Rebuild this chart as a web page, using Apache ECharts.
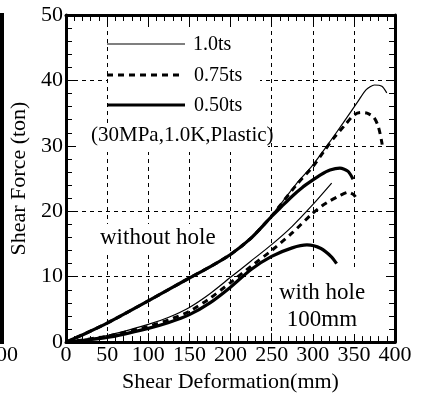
<!DOCTYPE html>
<html>
<head>
<meta charset="utf-8">
<script src="https://cdn.jsdelivr.net/npm/echarts@6/dist/echarts.min.js"></script>
<style>
html,body{margin:0;padding:0;background:#fff;}
#chart{width:423px;height:398px;}
</style>
</head>
<body>
<div id="chart"></div>
<script>
// axis ranges / ticks
const xRange = [0, 400], xStep = 50;
const yRange = [0, 50], yStep = 10;
const seriesNames = ['1.0ts', '0.75ts', '0.50ts'];

// without hole
const noHole100 = [[0,0],[25,1.4],[50,2.9],[100,6.3],[150,9.8],[175,11.5],[200,13.4],[225,16.0],[250,19.4],[264,21.6],[280,24.2],[299,26.9],[315,29.6],[337,33.5],[355,36.8],[365,38.6],[375,39.3],[384,39.1],[390,38.1]];
const noHole075 = [[0,0],[25,1.4],[50,2.9],[100,6.3],[150,9.8],[175,11.5],[200,13.4],[225,15.9],[250,19.3],[280,24.0],[300,26.8],[315,29.4],[325,31.1],[340,33.3],[350,34.7],[358,35.1],[366,35.0],[374,34.4],[379,33.2],[382,31.8],[384,30.5],[385,29.6]];
const noHole050 = [[0,0],[25,1.4],[50,2.9],[100,6.3],[150,9.8],[175,11.5],[200,13.4],[225,15.9],[250,19.2],[262,20.7],[275,22.3],[287,23.6],[298,24.6],[310,25.6],[321,26.3],[333,26.6],[343,26.1],[349,24.9]];
// with hole 100mm
const hole100 = [[0,0],[50,1.0],[100,2.7],[125,3.8],[150,5.3],[175,7.4],[200,9.9],[225,12.4],[250,14.9],[275,17.7],[300,21.0],[323,24.3]];
const hole075 = [[0,0],[50,0.9],[100,2.4],[125,3.4],[150,4.7],[175,6.7],[200,9.1],[225,11.6],[250,14.0],[276,16.8],[299,19.6],[311,20.8],[321,21.6],[333,22.4],[343,22.9],[350,22.5],[355,21.6]];
const hole050 = [[0,0],[50,0.7],[100,2.1],[125,3.0],[150,4.2],[175,6.0],[200,8.4],[225,11.1],[250,13.1],[275,14.4],[293,14.85],[310,14.3],[323,13.0],[329,12.0]];

const FONT = 'Liberation Serif';
const styles = {
  '1.0ts': {width: 1.2, type: 'solid'},
  '0.75ts': {width: 3, type: [6, 5]},
  '0.50ts': {width: 3.2, type: 'solid'}
};

function mkSeries(name, data) {
  return {
    name: name, type: 'line', data: data, symbol: 'none', smooth: 0.25,
    xAxisIndex: 0, yAxisIndex: 0, z: 10,
    lineStyle: {color: '#000', width: styles[name].width, type: styles[name].type, cap: 'butt'},
    itemStyle: {color: '#000'}
  };
}

function xAx(pos, primary) {
  return {
    type: 'value', position: pos, min: xRange[0], max: xRange[1], interval: xStep,
    axisLine: {show: true, onZero: false, lineStyle: {color: '#000', width: 3}},
    axisTick: {show: true, inside: true, length: 9, lineStyle: {color: '#000', width: 1}},
    minorTick: {show: true, splitNumber: 5, length: 6, lineStyle: {color: '#000', width: 1}},
    axisLabel: {show: primary, color: '#000', fontFamily: FONT, fontSize: 22, margin: 2},
    splitLine: {show: primary, lineStyle: {color: '#000', width: 1, type: [4, 4]}},
    name: primary ? 'Shear Deformation(mm)' : '', nameLocation: 'middle', nameGap: 28,
    nameTextStyle: {color: '#000', fontFamily: FONT, fontSize: 22}
  };
}
function yAx(pos, primary) {
  return {
    type: 'value', position: pos, min: yRange[0], max: yRange[1], interval: yStep,
    axisLine: {show: true, onZero: false, lineStyle: {color: '#000', width: 3}},
    axisTick: {show: true, inside: true, length: 9, lineStyle: {color: '#000', width: 1}},
    minorTick: {show: true, splitNumber: 5, length: 6, lineStyle: {color: '#000', width: 1}},
    axisLabel: {show: primary, color: '#000', fontFamily: FONT, fontSize: 22, margin: 3},
    splitLine: {show: primary, lineStyle: {color: '#000', width: 1, type: [4, 4]}},
    name: primary ? 'Shear Force (ton)' : '', nameLocation: 'middle', nameGap: 32, nameRotate: 90,
    nameTextStyle: {color: '#000', fontFamily: FONT, fontSize: 22}
  };
}

const LF = '20px "Liberation Serif"';
const chart = echarts.init(document.getElementById('chart'), null, {renderer: 'canvas'});
chart.setOption({
  animation: false,
  backgroundColor: '#fff',
  grid: {left: 66, right: 28, top: 15, bottom: 54, containLabel: false},
  xAxis: [xAx('bottom', true), xAx('top', false)],
  yAxis: [yAx('left', true), yAx('right', false)],
  graphic: [
    // legend box
    {type: 'rect', z: 1, shape: {x: 108, y: 27, width: 152, height: 96}, style: {fill: '#fff'}},
    {type: 'line', z: 3, shape: {x1: 107, y1: 44, x2: 185, y2: 44}, style: {stroke: '#000', lineWidth: 1.2}},
    {type: 'line', z: 3, shape: {x1: 107, y1: 75, x2: 183, y2: 75}, style: {stroke: '#000', lineWidth: 3, lineDash: [6, 5]}},
    {type: 'line', z: 3, shape: {x1: 107, y1: 105, x2: 185, y2: 105}, style: {stroke: '#000', lineWidth: 3.2}},
    {type: 'text', z: 3, x: 193, y: 45, style: {text: seriesNames[0], font: LF, fill: '#000', verticalAlign: 'middle'}},
    {type: 'text', z: 3, x: 194, y: 76, style: {text: seriesNames[1], font: LF, fill: '#000', verticalAlign: 'middle'}},
    {type: 'text', z: 3, x: 194, y: 106, style: {text: seriesNames[2], font: LF, fill: '#000', verticalAlign: 'middle'}},
    {type: 'rect', z: 1, shape: {x: 76, y: 123, width: 192, height: 29}, style: {fill: '#fff'}},
    {type: 'text', z: 3, x: 91, y: 135, style: {text: '(30MPa,1.0K,Plastic)', font: '21px "Liberation Serif"', fill: '#000', verticalAlign: 'middle'}},
    {type: 'rect', z: 1, shape: {x: 98, y: 224, width: 120, height: 28}, style: {fill: '#fff'}},
    {type: 'text', z: 3, x: 100, y: 238, style: {text: 'without hole', font: '23px "Liberation Serif"', fill: '#000', verticalAlign: 'middle'}},
    {type: 'rect', z: 1, shape: {x: 274, y: 268, width: 108, height: 66}, style: {fill: '#fff'}},
    {type: 'text', z: 3, x: 322, y: 293, style: {text: 'with hole', font: '23px "Liberation Serif"', fill: '#000', align: 'center', verticalAlign: 'middle'}},
    {type: 'text', z: 3, x: 322, y: 320, style: {text: '100mm', font: '23px "Liberation Serif"', fill: '#000', align: 'center', verticalAlign: 'middle'}},
    // fragment of the neighbouring panel at the left edge
    {type: 'rect', z: 3, shape: {x: 0, y: 13, width: 4, height: 331}, style: {fill: '#000'}},
    {type: 'text', z: 3, x: 18, y: 355, style: {text: '400', font: '22px "Liberation Serif"', fill: '#000', align: 'right', verticalAlign: 'middle'}}
  ],
  series: [
    mkSeries('1.0ts', noHole100), mkSeries('0.75ts', noHole075), mkSeries('0.50ts', noHole050),
    mkSeries('1.0ts', hole100), mkSeries('0.75ts', hole075), mkSeries('0.50ts', hole050)
  ]
});
</script>
</body>
</html>
